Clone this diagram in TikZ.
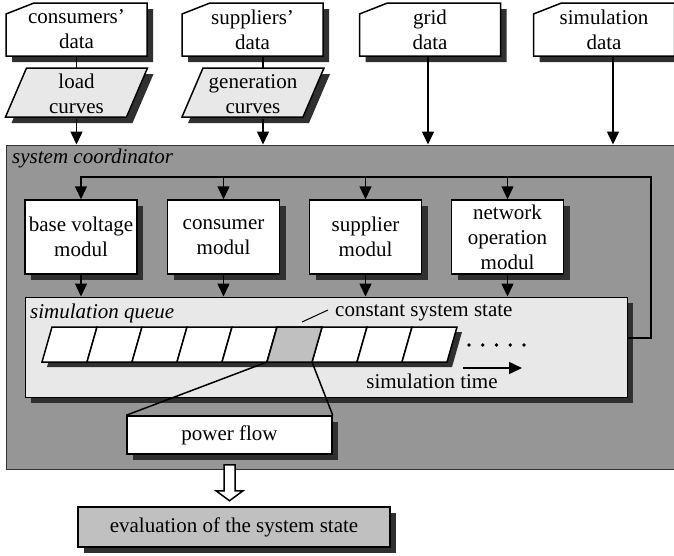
\documentclass[tikz,border=0pt]{standalone}
\usepackage{fontspec}
\setmainfont{Liberation Serif}
\usetikzlibrary{arrows.meta,calc,shadows}

\definecolor{coordgray}{HTML}{969696}
\definecolor{lightfill}{HTML}{E8E8E8}
\definecolor{cellgray}{HTML}{C0C0C0}
\definecolor{shade}{HTML}{303030}

\tikzset{
  shadowed/.style={drop shadow={shadow xshift=6pt,shadow yshift=-6pt,fill=shade,opacity=1}},
  boxline/.style={draw=black,line width=1.5pt},
  cardpath/.style={boxline,fill=white,shadowed},
  parapath/.style={boxline,fill=lightfill,shadowed},
  txt/.style={inner sep=0pt,align=center},
  itxt/.style={inner sep=0pt,font=\fontsize{21}{25}\selectfont\itshape},
  modbox/.style={boxline,fill=white,shadowed,minimum width=112pt,minimum height=74pt,inner sep=0pt,align=center},
  cellline/.style={draw=black,line width=1.5pt,fill=white},
  conn/.style={line width=1.5pt},
  arr/.style={line width=1.5pt,-{Triangle[width=12pt,length=13pt]}},
}

\newcommand\cardshape[1]{%
  \path[cardpath] ({#1-70.5},56) -- ({#1-70.5},14) -- ({#1-42.5},3)
    -- ({#1+70.5},3) -- ({#1+70.5},56) -- cycle;}

\begin{document}
\begin{tikzpicture}[x=1pt,y=-1pt,font=\fontsize{21}{25}\selectfont]
\useasboundingbox (0,0) rectangle (674,555);

% input data cards
\cardshape{76.5}
\cardshape{252.5}
\cardshape{430}
\cardshape{604}
\node[txt,minimum width=141pt,minimum height=53pt] (cdata) at (76.5,29.5) {consumers'\\data};
\node[txt,minimum width=141pt,minimum height=53pt] (sdata) at (252.5,29.5) {suppliers'\\data};
\node[txt,minimum width=141pt,minimum height=53pt] (gdata) at (430,29.5) {grid\\data};
\node[txt,minimum width=141pt,minimum height=53pt] (simdata) at (604,29.5) {simulation\\data};

% curve parallelograms
\path[parapath] (26.5,68) -- (147.5,68) -- (126.5,117) -- (5.5,117) -- cycle;
\path[parapath] (203,68) -- (324,68) -- (303,117) -- (182,117) -- cycle;
\node[txt,minimum width=142pt,minimum height=49pt] (load) at (76.5,94) {load\\curves};
\node[txt,minimum width=142pt,minimum height=49pt] (gen) at (253,94) {generation\\curves};

% system coordinator frame
\node[draw=black!80,line width=1pt,fill=coordgray,minimum width=700pt,minimum height=324pt,inner sep=0pt] (coord) at (356,307) {};
\node[itxt,anchor=west] (coordlbl) at (12,158) {system coordinator};

% inputs into the coordinator
\coordinate (sa) at ($(sdata.south)+(10.5,0)$);
\coordinate (ga) at ($(gen.south)+(10,0)$);
\coordinate (gd) at ($(gdata.south)+(-2,0)$);
\coordinate (sd) at ($(simdata.south)+(9,0)$);
\draw[conn] (cdata.south) -- (load.north);
\draw[arr] (load.south) -- (load.south |- coord.north);
\draw[conn] (sa) -- (sa |- gen.north);
\draw[arr] (ga) -- (ga |- coord.north);
\draw[arr] (gd) -- (gd |- coord.north);
\draw[arr] (sd) -- (sd |- coord.north);

% modules
\node[modbox] (mbase) at (81,237) {base voltage\\modul};
\node[modbox] (mcons) at (223.5,237) {consumer\\modul};
\node[modbox] (msupp) at (365.5,237) {supplier\\modul};
\node[modbox] (mnet) at (507.5,237) {network\\operation\\modul};

% simulation queue
\node[draw=black,line width=1pt,fill=lightfill,shadowed,minimum width=602pt,minimum height=100pt,inner sep=0pt] (queue) at (326,347) {};
\node[itxt,anchor=west] (qlbl) at (30,313) {simulation queue};

% feedback bus
\coordinate (busturn) at (651,338);
\coordinate (buscorner) at (651,177);
\draw[arr] (queue.east |- busturn) -- (busturn) -- (buscorner) -| (mbase.north);
\foreach \m in {mcons,msupp,mnet} \draw[arr] (\m.north |- buscorner) -- (\m.north);
\foreach \m in {mbase,mcons,msupp,mnet} \draw[arr] (\m.south) -- (\m.south |- queue.north);

% queue cells
\path[fill=white,drop shadow={shadow xshift=5pt,shadow yshift=-5pt,fill=shade,opacity=1}]
  (52,327) -- (457,327) -- (447,362) -- (42,362) -- cycle;
\foreach \k in {0,...,8}
  \draw[cellline] ({52+45*\k},327) -- ({97+45*\k},327) -- ({87+45*\k},362) -- ({42+45*\k},362) -- cycle;
\draw[cellline,fill=cellgray] (277,327) -- (322,327) -- (312,362) -- (267,362) -- cycle;
\coordinate (cellL) at (267,362);
\coordinate (cellR) at (312,362);

\node[txt,anchor=west] (cstate) at (335,313) {constant system state};
\draw[line width=1pt] (302,322) -- ($(cstate.west)+(-7,-3)$);

\foreach \i in {0,...,4} \fill ({469+13.75*\i},345) circle[radius=1.8pt];
\node[txt] (stime) at (432,381) {simulation time};
\coordinate (tstart) at (463,368);
\coordinate (tend) at (522,368);
\draw[arr] (tstart) -- (tend);

% power flow
\node[boxline,fill=white,shadowed,minimum width=205pt,minimum height=38pt,inner sep=0pt] (pf) at (229.5,435) {power flow};
\draw[conn] (cellL) -- (pf.north west);
\draw[conn] (cellR) -- (pf.north east);

% evaluation
\node[boxline,fill=cellgray,shadowed,minimum width=312pt,minimum height=40pt,inner sep=0pt] (eval) at (234,527) {evaluation of the system state};
\draw[line width=1.5pt,fill=white]
  ($(pf.south)+(-5.5,10)$) -- ($(pf.south)+(5.5,10)$) -- ($(pf.south)+(5.5,36)$)
  -- ($(pf.south)+(13.5,36)$) -- ($(pf.south)+(0,46)$) -- ($(pf.south)+(-13.5,36)$)
  -- ($(pf.south)+(-5.5,36)$) -- cycle;
\end{tikzpicture}
\end{document}
